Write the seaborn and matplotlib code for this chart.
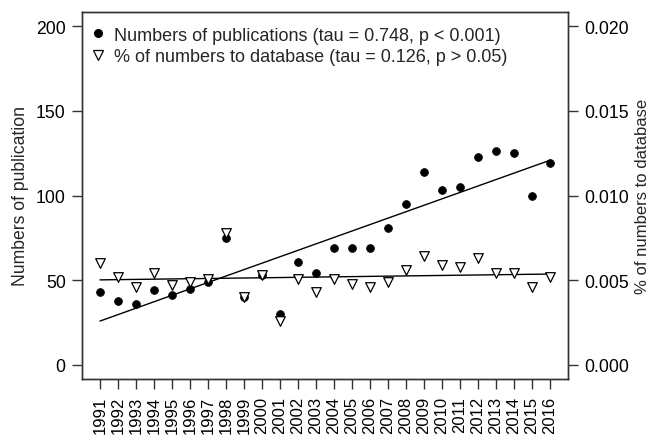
import numpy as np
import pandas as pd
import matplotlib
matplotlib.use("Agg")
import matplotlib.pyplot as plt
from matplotlib.lines import Line2D
import seaborn as sns

years = list(range(1991, 2017))
publications = [43, 38, 36, 44, 41, 45, 49, 75, 40, 53, 30, 61, 54, 69, 69, 69,
                81, 95, 114, 103, 105, 123, 126, 125, 100, 119]
pct_database = [0.0060, 0.0052, 0.0046, 0.0054, 0.0047, 0.0049, 0.0051, 0.0078,
                0.0040, 0.0053, 0.0026, 0.0051, 0.0043, 0.0051, 0.0048, 0.0046,
                0.0049, 0.0056, 0.0064, 0.0059, 0.0058, 0.0063, 0.0054, 0.0054,
                0.0046, 0.0052]
legend_labels = ["Numbers of publications (tau = 0.748, p < 0.001)",
                 "% of numbers to database (tau = 0.126, p > 0.05)"]
left_ticks = [0, 50, 100, 150, 200]
right_ticks = [0.000, 0.005, 0.010, 0.015, 0.020]

df = pd.DataFrame({"year": years, "pub": publications, "pct": pct_database})

sns.set_style("ticks")
plt.rcParams["font.family"] = ["Liberation Sans", "DejaVu Sans"]

FS = 12.7

fig = plt.figure(figsize=(6.53, 4.39), dpi=100)
ax = fig.add_axes([82/653, 1-380/439, (568-82)/653, (380-13)/439])
ax2 = ax.twinx()

sns.scatterplot(data=df, x="year", y="pub", ax=ax, marker="o", s=32,
                color="black", edgecolor="black", linewidth=0.5, zorder=3)
sns.regplot(data=df, x="year", y="pub", ax=ax, scatter=False, ci=None,
            truncate=True, line_kws=dict(color="black", lw=1))

sns.scatterplot(data=df, x="year", y="pct", ax=ax2, marker="v", s=48,
                facecolor="white", edgecolor="black", linewidth=0.9, zorder=3)
sns.regplot(data=df, x="year", y="pct", ax=ax2, scatter=False, ci=None,
            truncate=True, line_kws=dict(color="black", lw=1))

ax.set_xlim(1990, 2017)
ax.set_ylim(-8.3, 208.3)
ax2.set_ylim(-0.00083, 0.02083)
ax.set_yticks(left_ticks)
ax.set_yticklabels([str(t) for t in left_ticks])
ax2.set_yticks(right_ticks)
ax2.set_yticklabels([f"{t:.3f}" for t in right_ticks])
ax.set_xticks(years)
ax.set_xticklabels([str(y) for y in years], rotation=90)

for a in (ax, ax2):
    for sp in a.spines.values():
        sp.set_visible(True)
        sp.set_linewidth(1.0)
        sp.set_color("#333333")
    a.tick_params(length=7.2, width=1.0, color="#333333", labelsize=FS,
                  labelcolor="black", pad=4.5)
ax.tick_params(axis="x", labelsize=12, pad=5)

ax.set_xlabel("")
ax.set_ylabel("Numbers of publication", fontsize=FS, labelpad=5)
ax2.set_ylabel("% of numbers to database", fontsize=12, labelpad=4)

handles = [Line2D([], [], marker="o", ls="none", color="black", markersize=5.5),
           Line2D([], [], marker="v", ls="none", markerfacecolor="white",
                  markeredgecolor="black", markersize=7, markeredgewidth=0.9)]
ax.legend(handles, legend_labels, loc="upper left", frameon=False,
          fontsize=13, handletextpad=0.35, handlelength=1.0,
          borderaxespad=0.0, labelspacing=0.25, bbox_to_anchor=(0.0, 0.98))

fig.savefig("out.png", dpi=100)
